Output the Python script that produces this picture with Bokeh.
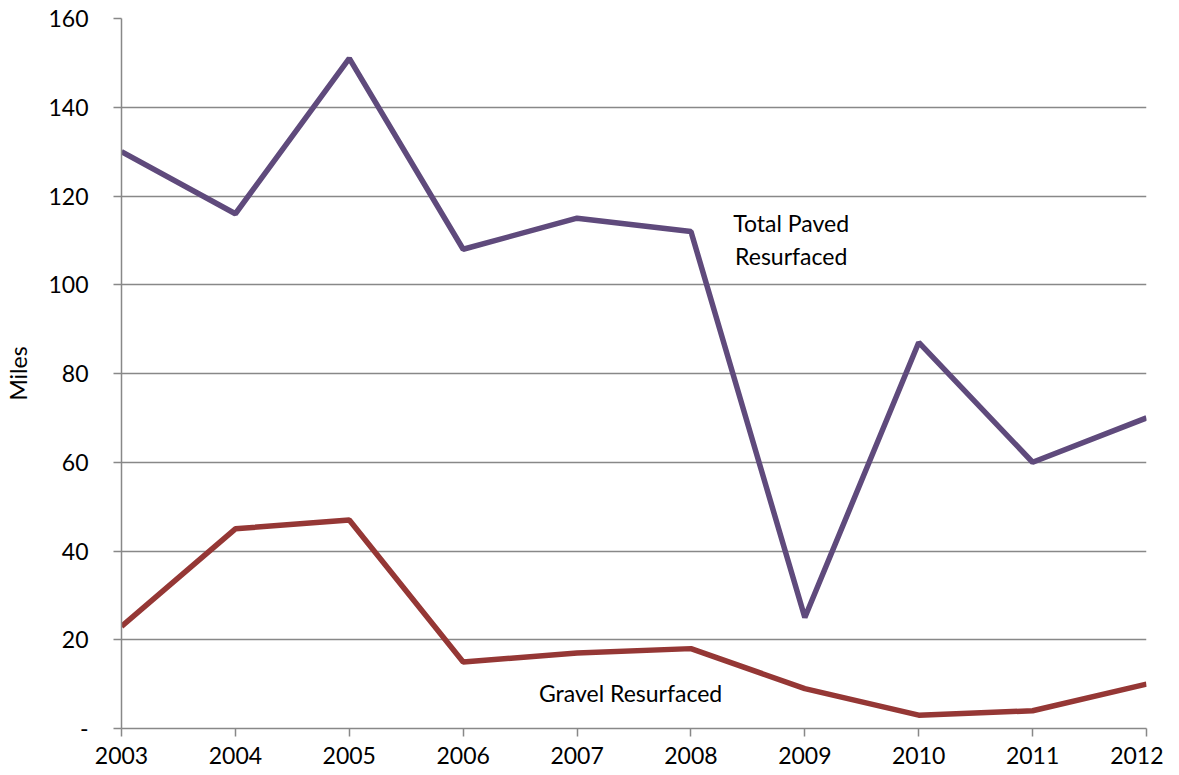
from bokeh.plotting import figure
from bokeh.models import Range1d, FixedTicker, Label
from bokeh.embed import file_html
from bokeh.resources import INLINE

years = [2003, 2004, 2005, 2006, 2007, 2008, 2009, 2010, 2011, 2012]
paved = [130, 116, 151, 108, 115, 112, 25, 87, 60, 70]
gravel = [23, 45, 47, 15, 17, 18, 9, 3, 4, 10]
y_ticks = [0, 20, 40, 60, 80, 100, 120, 140, 160]

FONT = "Lato"
GRID = "#888888"

p = figure(width=1163, height=769, output_backend="svg", toolbar_location=None,
           x_range=Range1d(2003, 2012), y_range=Range1d(0, 160),
           min_border_left=121, min_border_top=18, min_border_right=17,
           min_border_bottom=41)
p.outline_line_color = None
p.background_fill_color = "white"

p.xgrid.grid_line_color = None
p.ygrid.grid_line_color = GRID
p.ygrid.grid_line_width = 1.5

p.xaxis.ticker = FixedTicker(ticks=years)
p.yaxis.ticker = FixedTicker(ticks=y_ticks)
p.yaxis.major_label_overrides = {0: "-"}

for ax in (p.xaxis[0], p.yaxis[0]):
    ax.axis_line_color = GRID
    ax.axis_line_width = 1.5
    ax.major_tick_line_color = GRID
    ax.major_tick_line_width = 1.5
    ax.major_tick_out = 8
    ax.major_tick_in = 0
    ax.minor_tick_line_color = None
    ax.major_label_text_font = FONT
    ax.major_label_text_font_size = "23px"
    ax.major_label_text_color = "black"

p.xaxis.major_label_standoff = 10
p.yaxis.major_label_standoff = 25
p.yaxis.axis_label = "Miles"
p.yaxis.axis_label_text_font = FONT
p.yaxis.axis_label_text_font_size = "23px"
p.yaxis.axis_label_text_font_style = "normal"
p.yaxis.axis_label_text_color = "black"
p.yaxis.axis_label_standoff = 13

p.line(years, paved, line_color="#5f4a7c", line_width=5.5)
p.line(years, gravel, line_color="#953735", line_width=5.5)

for txt, x, y in [("Total Paved", 2008.88, 113.9), ("Resurfaced", 2008.88, 106.4),
                  ("Gravel Resurfaced", 2007.47, 8.1)]:
    p.add_layout(Label(x=x, y=y, text=txt, text_align="center", text_baseline="middle",
                       text_font=FONT, text_font_size="23px", text_color="black"))

open("out.html", "w").write(file_html(p, INLINE))
